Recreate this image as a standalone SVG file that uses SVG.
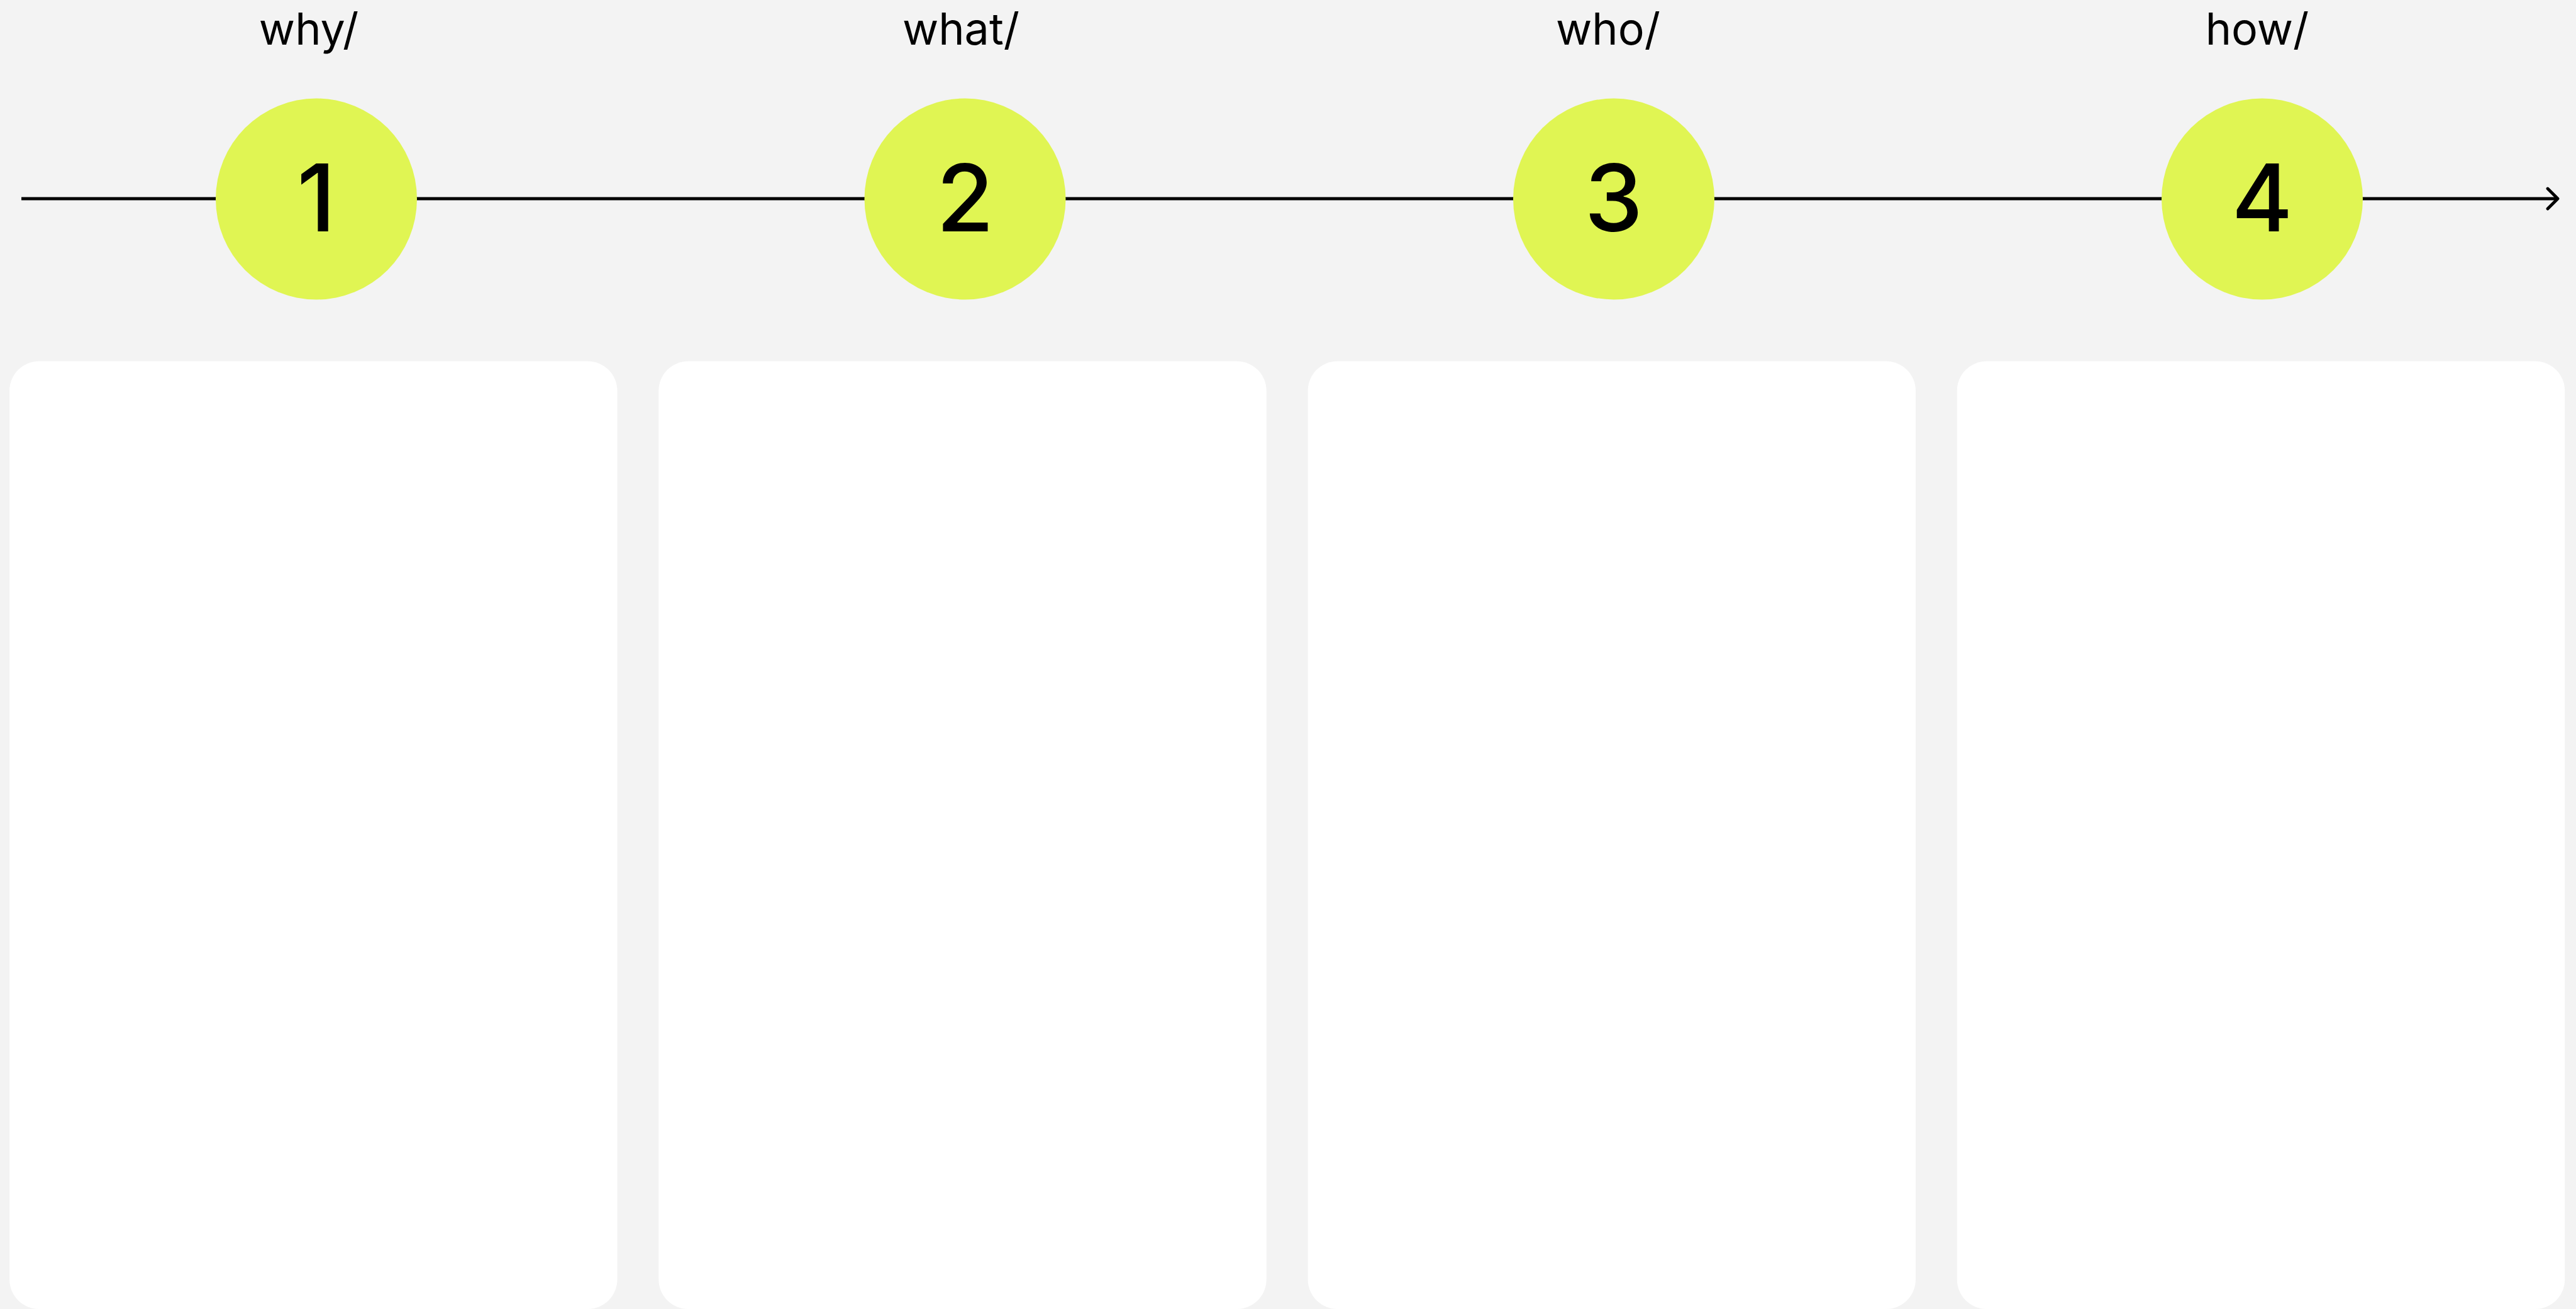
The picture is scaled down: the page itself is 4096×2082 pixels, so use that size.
<svg xmlns="http://www.w3.org/2000/svg" width="4096" height="2082" viewBox="0 0 4096 2082">
<style>
.card{fill:#ffffff}
.dot{fill:#E0F553}
.lbl{font-family:Inter,"Liberation Sans",sans-serif;font-size:70px;fill:#000;text-anchor:middle}
.num{font-family:Inter,"Liberation Sans",sans-serif;font-size:148px;font-weight:500;fill:#000;text-anchor:middle}
.conn{stroke:#000;stroke-width:4.8;fill:none;stroke-linecap:round;stroke-linejoin:round}
</style>
<rect x="0" y="0" width="4096" height="2082" fill="#F3F3F3"/>
<g id="connectors">
<line class="conn" x1="34" y1="316" x2="4066" y2="316" style="stroke-linecap:butt"/>
<polyline class="conn" points="4051,300 4067,316 4051,332"/>
</g>
<g id="card1"><rect class="card" x="15.1" y="574.6" width="966.4" height="1507.4" rx="47" ry="47"/></g>
<g id="card2"><rect class="card" x="1047.3" y="574.6" width="966.4" height="1507.4" rx="47" ry="47"/></g>
<g id="card3"><rect class="card" x="2079.6" y="574.6" width="966.4" height="1507.4" rx="47" ry="47"/></g>
<g id="card4"><rect class="card" x="3111.8" y="574.6" width="966.4" height="1507.4" rx="47" ry="47"/></g>
<g id="step1"><text class="lbl" x="491" y="71">why/</text><circle class="dot" cx="503" cy="316.5" r="160"/><text class="num" x="503" y="368">1</text></g>
<g id="step2"><text class="lbl" x="1528" y="71">what/</text><circle class="dot" cx="1534.5" cy="316.5" r="160"/><text class="num" x="1534.5" y="368">2</text></g>
<g id="step3"><text class="lbl" x="2557" y="71">who/</text><circle class="dot" cx="2566" cy="316.5" r="160"/><text class="num" x="2566" y="368">3</text></g>
<g id="step4"><text class="lbl" x="3589" y="71">how/</text><circle class="dot" cx="3597" cy="316.5" r="160"/><text class="num" x="3597" y="368">4</text></g>
</svg>
